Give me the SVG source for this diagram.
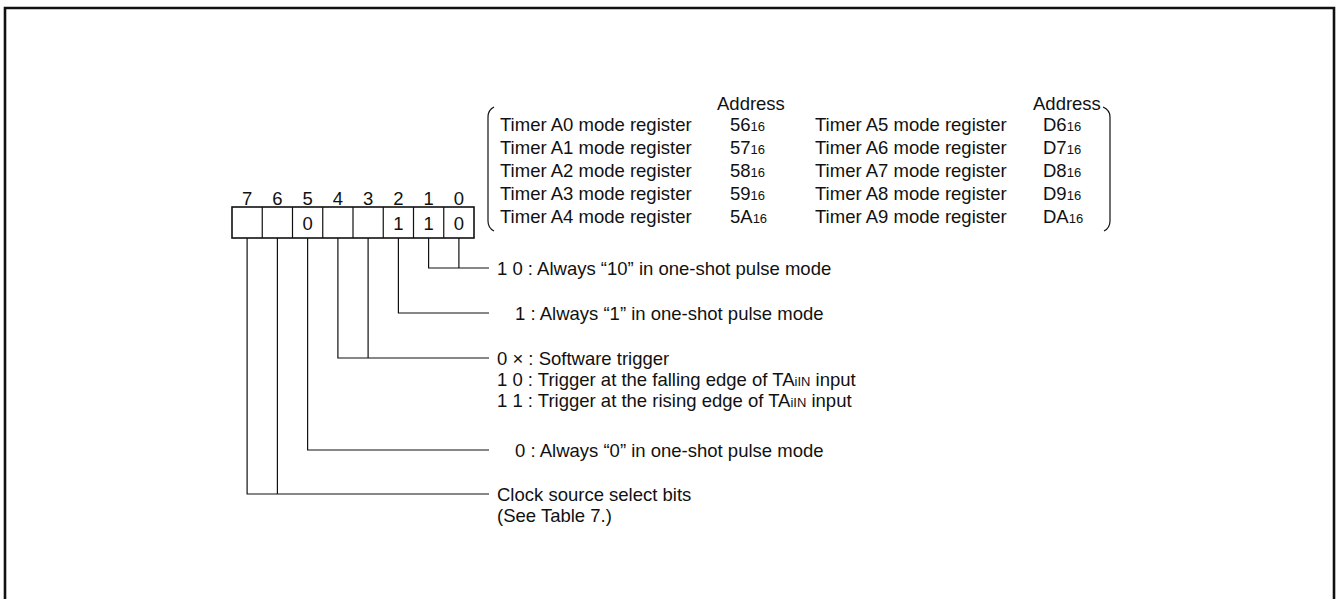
<svg xmlns="http://www.w3.org/2000/svg" width="1338" height="599" viewBox="0 0 1338 599">
<style>
.t{font-family:"Liberation Sans",Arial,sans-serif;font-size:18.5px;fill:#111}
.c{text-anchor:middle}
.s{font-size:13px}
.ln{fill:none;stroke:#111;stroke-width:1.2}
.bx{fill:#fff;stroke:#111;stroke-width:1.6}
</style>
<rect width="1338" height="599" fill="#fff"/>
<path d="M5,602 V8 H1334 V602" fill="none" stroke="#111" stroke-width="2.6"/>

<g id="register">
<rect class="bx" x="232" y="207" width="242" height="31"/>
<path class="ln" stroke-width="1.6" d="M262.25,207V238M292.5,207V238M322.75,207V238M353,207V238M383.25,207V238M413.5,207V238M443.75,207V238"/>
<g class="t c">
<text x="247.1" y="204.5">7</text><text x="277.4" y="204.5">6</text><text x="307.6" y="204.5">5</text><text x="337.9" y="204.5">4</text>
<text x="368.1" y="204.5">3</text><text x="398.4" y="204.5">2</text><text x="428.6" y="204.5">1</text><text x="458.9" y="204.5">0</text>
<text x="307.6" y="229.5">0</text><text x="398.4" y="229.5">1</text><text x="428.6" y="229.5">1</text><text x="458.9" y="229.5">0</text>
</g>
</g>

<g id="address-table">
<path class="ln" d="M494,107 Q488,110 488,117 V221 Q488,228 494,231"/>
<path class="ln" d="M1103,107 Q1110,110 1110,117 V221 Q1110,228 1104,231"/>
<g class="t">
<text x="717" y="109.5">Address</text>
<text x="1033" y="109.5">Address</text>
<text x="500" y="131">Timer A0 mode register</text>
<text x="500" y="154">Timer A1 mode register</text>
<text x="500" y="177">Timer A2 mode register</text>
<text x="500" y="200">Timer A3 mode register</text>
<text x="500" y="223">Timer A4 mode register</text>
<text x="730" y="131">56<tspan class="s">16</tspan></text>
<text x="730" y="154">57<tspan class="s">16</tspan></text>
<text x="730" y="177">58<tspan class="s">16</tspan></text>
<text x="730" y="200">59<tspan class="s">16</tspan></text>
<text x="730" y="223">5A<tspan class="s">16</tspan></text>
<text x="815" y="131">Timer A5 mode register</text>
<text x="815" y="154">Timer A6 mode register</text>
<text x="815" y="177">Timer A7 mode register</text>
<text x="815" y="200">Timer A8 mode register</text>
<text x="815" y="223">Timer A9 mode register</text>
<text x="1043" y="131">D6<tspan class="s">16</tspan></text>
<text x="1043" y="154">D7<tspan class="s">16</tspan></text>
<text x="1043" y="177">D8<tspan class="s">16</tspan></text>
<text x="1043" y="200">D9<tspan class="s">16</tspan></text>
<text x="1043" y="223">DA<tspan class="s">16</tspan></text>
</g>
</g>

<g id="connectors">
<path class="ln" d="M458.9,238V268"/>
<path class="ln" d="M428.6,238V268H489"/>
<path class="ln" d="M398.4,238V313H489"/>
<path class="ln" d="M368.1,238V358"/>
<path class="ln" d="M337.9,238V358H489"/>
<path class="ln" d="M307.6,238V450H489"/>
<path class="ln" d="M277.4,238V494"/>
<path class="ln" d="M247.1,238V494H489"/>
</g>

<g id="bits-1-0" class="t"><text x="497" y="275">1 0 : Always “10” in one-shot pulse mode</text></g>
<g id="bit-2" class="t"><text x="515" y="320">1 : Always “1” in one-shot pulse mode</text></g>
<g id="bits-4-3" class="t">
<text x="497" y="365">0 × : Software trigger</text>
<text x="497" y="386">1 0 : Trigger at the falling edge of TA<tspan class="s">iIN</tspan> input</text>
<text x="497" y="407">1 1 : Trigger at the rising edge of TA<tspan class="s">iIN</tspan> input</text>
</g>
<g id="bit-5" class="t"><text x="515" y="457">0 : Always “0” in one-shot pulse mode</text></g>
<g id="bits-7-6" class="t">
<text x="497" y="501">Clock source select bits</text>
<text x="497" y="522">(See Table 7.)</text>
</g>
</svg>
